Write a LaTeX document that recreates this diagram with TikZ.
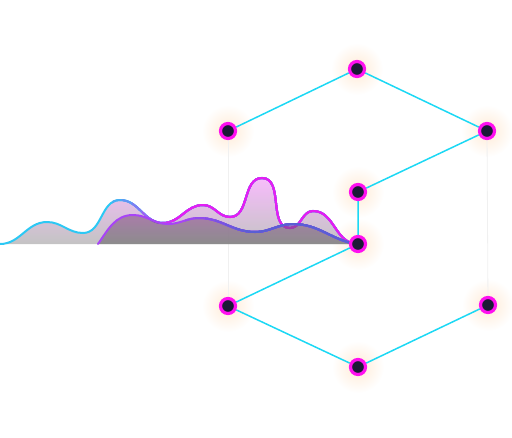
\documentclass[tikz,border=0pt]{standalone}
\usepackage{xcolor}
\definecolor{linkcyan}{HTML}{1CD8F4}
\definecolor{ringpink}{HTML}{FF10F0}
\definecolor{dotnavy}{HTML}{1B1A36}
\definecolor{wavecyan}{HTML}{2CC8F4}
\definecolor{wavepink}{HTML}{E41EF2}
\definecolor{wavepurple}{HTML}{A844F6}
\definecolor{waveblue}{HTML}{5A5ED4}
\usepackage{tikz}
\usetikzlibrary{backgrounds}

% the two wave outlines (pixel coordinates, y pointing down)
\newcommand{\frontwave}{(0,244) to[out=0,in=180] (47,222) to[out=0,in=180] (83,233)
  to[out=0,in=180] (120,200) to[out=0,in=180] (163,223) to[out=0,in=180] (203,205)
  to[out=0,in=180] (230,217) to[out=0,in=180] (262,178) to[out=0,in=180] (290,228)
  to[out=0,in=180] (313,211) to[out=0,in=175] (356,244)}
\newcommand{\backwave}{(98,244) to[out=55,in=180] (133,215) to[out=0,in=180] (168,224)
  to[out=0,in=180] (199,218) to[out=0,in=180] (255,232) to[out=0,in=180] (293,224)
  to[out=0,in=170] (356,244)}

\begin{document}
\begin{tikzpicture}[x=1pt, y=-1pt,
  hexdot/.style={circle, fill=dotnavy, draw=ringpink, line width=3.2pt,
    minimum size=15pt, inner sep=0pt},
  hexlink/.style={linkcyan, line width=1.5pt},
  guide/.style={gray!12, line width=0.8pt}]
  \useasboundingbox (0,0) rectangle (512,437);

  % nodes of the hexagon chain
  \node[hexdot] (top) at (357,69) {};
  \node[hexdot] (upleft) at (228,131) {};
  \node[hexdot] (upright) at (487,131) {};
  \node[hexdot] (midup) at (358,192) {};
  \node[hexdot] (middown) at (358,244) {};
  \node[hexdot] (lowleft) at (228,306) {};
  \node[hexdot] (lowright) at (488,305) {};
  \node[hexdot] (bottom) at (358,367) {};

  \begin{scope}[on background layer]
    \foreach \n in {top,upleft,upright,midup,middown,lowleft,lowright,bottom}
      \shade[inner color=orange!16, outer color=white] (\n) circle (26);
    \draw[guide] (upleft) -- (lowleft);
    \draw[guide] (upright) -- (lowright);
    \draw[hexlink] (upleft) -- (top) -- (upright) -- (midup) -- (middown)
      -- (lowleft) -- (bottom) -- (lowright);

    % front wave: fill, then a stroke going from cyan to pink
    \shade[top color=wavepink!35, bottom color=gray!55, opacity=0.85]
      \frontwave -- cycle;
    \foreach \xa/\mix in {-10/100, 112/85, 122/70, 132/55, 142/40, 152/25, 162/10, 172/0} {
      \begin{scope}
        \clip (\xa,0) rectangle (520,437);
        \draw[wavecyan!\mix!wavepink, line width=2pt, line cap=round] \frontwave;
      \end{scope}
    }

    % back wave
    \shade[top color=violet!45!gray, bottom color=gray!75!black, opacity=0.55]
      \backwave -- cycle;
    \foreach \xa/\mix in {90/100, 185/85, 195/70, 205/55, 215/40, 225/25, 235/10, 245/0} {
      \begin{scope}
        \clip (\xa,0) rectangle (520,437);
        \draw[wavepurple!\mix!waveblue, line width=2pt, line cap=round] \backwave;
      \end{scope}
    }
  \end{scope}
\end{tikzpicture}
\end{document}
